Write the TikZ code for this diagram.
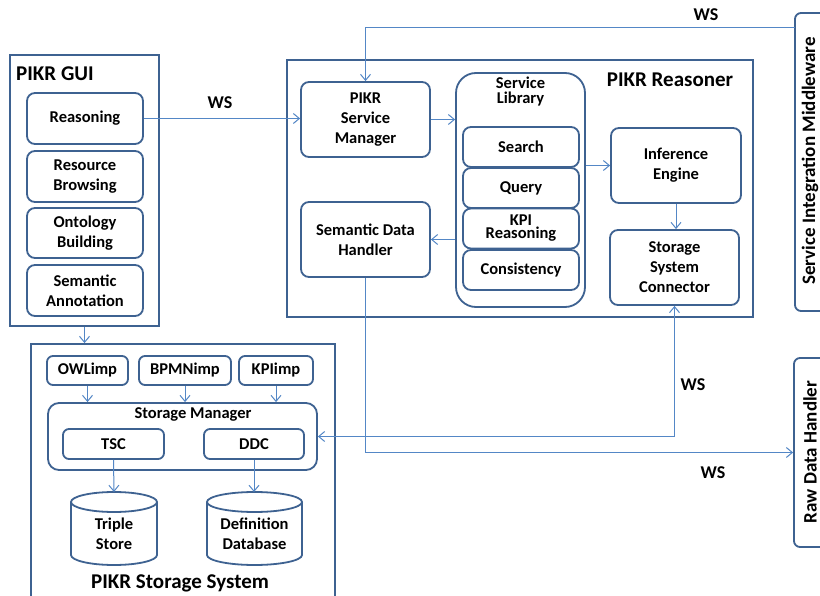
\documentclass[tikz,border=0pt]{standalone}
\usepackage{fontspec}
\setmainfont{Carlito}
\usetikzlibrary{arrows.meta}
\definecolor{bcol}{RGB}{62,98,145}
\definecolor{lcol}{RGB}{84,135,198}
\tikzset{
  bd/.style={draw=bcol, line width=1.8pt},
  box/.style={bd, rounded corners=8pt, align=center, inner sep=0pt,
     font=\fontsize{16.5}{20}\selectfont\bfseries},
  outer/.style={bd, inner sep=0pt},
  ttl/.style={font=\fontsize{21}{24}\selectfont\bfseries, inner sep=0pt},
  txt/.style={align=center, inner sep=0pt, font=\fontsize{16.5}{20}\selectfont\bfseries},
  vtxt/.style={inner sep=0pt, rotate=90, font=\fontsize{19}{20}\selectfont\bfseries},
  wsl/.style={font=\fontsize{18}{20}\selectfont\bfseries, inner sep=0pt},
  arr/.style={draw=lcol, line width=1pt, -{Straight Barb[length=6pt,width=10pt]}},
  darr/.style={draw=lcol, line width=1pt, {Straight Barb[length=6pt,width=10pt]}-{Straight Barb[length=6pt,width=10pt]}},
}
\begin{document}
\begin{tikzpicture}[x=1pt,y=-1pt]
\useasboundingbox (0,0) rectangle (820,596);
\clip (0,0) rectangle (820,596);
\fill[white] (0,0) rectangle (820,596);

% ---------- PIKR GUI ----------
\node[outer, minimum width=149pt, minimum height=271pt] (gui) at (84.5,190.5) {};
\node[ttl, anchor=west] (guit) at (16,74) {PIKR GUI};
\node[box, minimum width=116pt, minimum height=51pt] (reason) at (85,118.5) {Reasoning};
\node[box, minimum width=116pt, minimum height=51pt] (rb) at (85,176.5) {Resource\\Browsing};
\node[box, minimum width=116pt, minimum height=50pt] (ob) at (85,233) {Ontology\\Building};
\node[box, minimum width=116pt, minimum height=51pt] (sa) at (85,290.5) {Semantic\\Annotation};

% ---------- PIKR Reasoner ----------
\node[outer, minimum width=466pt, minimum height=257pt] (reasoner) at (520,188.5) {};
\node[ttl] (reasonert) at (670,80) {PIKR Reasoner};
\node[box, minimum width=129pt, minimum height=75pt] (psm) at (365.5,119.5) {PIKR\\Service\\Manager};
\node[box, rounded corners=20pt, minimum width=129pt, minimum height=234pt] (sl) at (520.5,190) {};
\node[txt, font=\fontsize{16.5}{15}\selectfont\bfseries] (slt) at (520.5,92) {Service\\Library};
\node[box, minimum width=116pt, minimum height=40pt] (search) at (521,147) {Search};
\node[box, minimum width=116pt, minimum height=40pt] (query) at (521,188) {Query};
\node[box, minimum width=116pt, minimum height=40pt, font=\fontsize{16.5}{13}\selectfont\bfseries] (kpi) at (521,228.5) {KPI\\Reasoning};
\node[box, minimum width=116pt, minimum height=40pt] (cons) at (521,270) {Consistency};
\node[box, minimum width=130pt, minimum height=75pt] (inf) at (676,165.5) {Inference\\Engine};
\node[box, minimum width=129pt, minimum height=75pt] (ssc) at (674.5,267.5) {Storage\\System\\Connector};
\node[box, minimum width=129pt, minimum height=75pt] (sdh) at (365.5,239.5) {Semantic Data\\Handler};

% ---------- PIKR Storage System ----------
\node[outer, minimum width=304pt, minimum height=280pt] (storage) at (183,484) {};
\node[ttl] (storaget) at (180,583) {PIKR Storage System};
\node[box, rounded corners=6pt, minimum width=81pt, minimum height=29pt] (owl) at (87.5,370.5) {OWLimp};
\node[box, rounded corners=6pt, minimum width=92pt, minimum height=29pt] (bpmn) at (185,370.5) {BPMNimp};
\node[box, rounded corners=6pt, minimum width=74pt, minimum height=29pt] (kpiimp) at (276,370.5) {KPIimp};
\node[box, rounded corners=11pt, minimum width=269pt, minimum height=67pt] (sm) at (182.5,436.5) {};
\node[txt] (smt) at (193,414) {Storage Manager};
\node[box, rounded corners=6pt, minimum width=101pt, minimum height=30pt] (tsc) at (113.5,444) {TSC};
\node[box, rounded corners=6pt, minimum width=100pt, minimum height=30pt] (ddc) at (254,444) {DDC};

% cylinders
\draw[bd] (71,502) -- (71,555) arc[start angle=180, end angle=360, x radius=43pt, y radius=10pt] -- (157,502);
\draw[bd] (114,502) ellipse[x radius=43pt, y radius=10pt];
\coordinate (tstop) at (114,492);
\node[txt] (ts) at (114,534) {Triple\\Store};
\draw[bd] (207,502) -- (207,555) arc[start angle=180, end angle=360, x radius=47.5pt, y radius=10pt] -- (302,502);
\draw[bd] (254.5,502) ellipse[x radius=47.5pt, y radius=10pt];
\coordinate (ddtop) at (254,492);
\node[txt] (dd) at (254.5,534) {Definition\\Database};

% ---------- right side boxes ----------
\node[bd, rounded corners=6pt, minimum width=60pt, minimum height=298pt, inner sep=0pt] (mw) at (825,162) {};
\node[vtxt] (mwt) at (810,161) {Service Integration Middleware};
\node[bd, rounded corners=6pt, minimum width=60pt, minimum height=189pt, inner sep=0pt] (raw) at (824,452.5) {};
\node[vtxt] (rawt) at (810,452) {Raw Data Handler};

% ---------- connectors ----------
\draw[arr] (reason.east) -- (reason.east -| psm.west);
\node[wsl] (ws1) at (220,103) {WS};
\draw[arr] (psm.east) -- (psm.east -| sl.west);
\draw[arr] (inf.west -| sl.east) -- (inf.west);
\draw[arr] (sdh.east -| sl.west) -- (sdh.east);
\draw[arr] (inf.south) -- (inf.south |- ssc.north);
\coordinate (wsin) at (795,28);
\draw[arr] (wsin) -- (wsin -| psm.north) -- (psm.north);
\node[wsl] (ws2) at (706,15) {WS};
\draw[arr] (gui.south) -- (gui.south |- storage.north);
\draw[arr] (owl.south) -- (owl.south |- sm.north);
\draw[arr] (bpmn.south) -- (bpmn.south |- sm.north);
\draw[arr] (kpiimp.south) -- (kpiimp.south |- sm.north);
\draw[arr] (tsc.south) -- (tstop);
\draw[arr] (ddc.south) -- (ddtop);
\draw[darr] (sm.east) -- (sm.east -| ssc.south) -- (ssc.south);
\node[wsl] (ws3) at (693,385) {WS};
\draw[arr] (sdh.south) -- (sdh.south |- raw.west) -- (raw.west);
\node[wsl] (ws4) at (713,473) {WS};
\end{tikzpicture}
\end{document}
